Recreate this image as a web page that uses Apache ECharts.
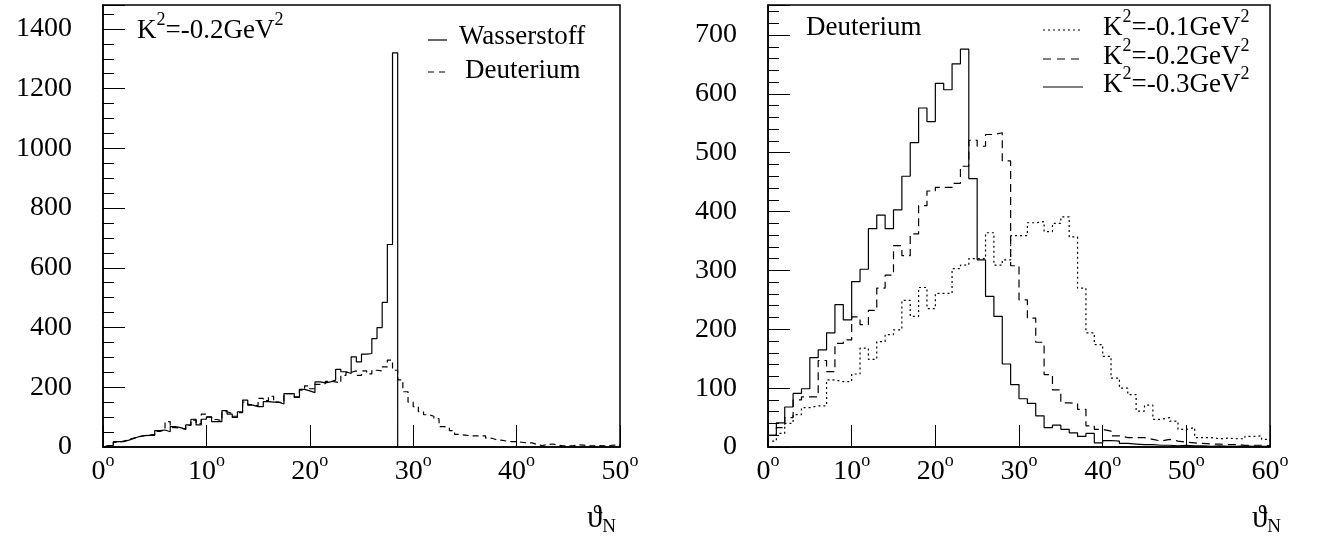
<!DOCTYPE html>
<html>
<head>
<meta charset="utf-8">
<title>theta_N Verteilungen</title>
<script src="https://cdn.jsdelivr.net/npm/echarts@6/dist/echarts.min.js"></script>
<style>
html, body { margin: 0; padding: 0; background: #fff; }
#main { width: 1327px; height: 544px; }
</style>
</head>
<body>
<div id="main"></div>
<script>
// bin widths in degrees
var leftBin = 0.5;
var rightBin = 1;

// linkes Bild: K^2 = -0.2 GeV^2, 0.5 Grad Bins
var wasserstoff = [5, 5, 18, 18, 23, 29, 35, 38, 39, 39,
  55, 57, 51, 68, 65, 59, 74, 93, 74, 93,
  101, 85, 85, 122, 110, 99, 118, 157, 140, 135,
  135, 152, 150, 150, 144, 179, 179, 166, 193, 188,
  182, 218, 215, 218, 224, 260, 252, 246, 302, 285,
  311, 313, 363, 400, 484, 678, 1320];
var deuteriumLeft = [3, 8, 15, 20, 25, 30, 34, 38, 40, 42,
  52, 57, 85, 65, 63, 60, 72, 90, 78, 110,
  100, 92, 88, 118, 112, 103, 115, 150, 142, 138,
  163, 155, 170, 150, 148, 179, 179, 168, 190, 205,
  195, 210, 212, 220, 218, 215, 240, 250, 255, 240,
  255, 245, 257, 255, 268, 291, 257, 225, 185, 150,
  135, 118, 108, 103, 95, 68, 65, 55, 42, 40,
  38, 37, 37, 37, 30, 25, 23, 20, 18, 18,
  16, 14, 14, 8, 5, 8, 10, 6, 4, 4,
  5, 7, 6, 4, 4, 5, 4, 5, 6, 7];

// rechtes Bild: Deuterium, 1 Grad Bins
var k01 = [10, 23, 40, 55, 67, 70, 70, 114, 111, 111,
  124, 168, 149, 179, 191, 199, 249, 222, 271, 235,
  261, 261, 303, 309, 320, 320, 364, 309, 318, 359,
  359, 381, 383, 366, 380, 391, 357, 270, 194, 174,
  154, 117, 100, 89, 61, 71, 47, 50, 44, 30,
  33, 16, 16, 14, 15, 14, 14, 18, 19, 13];
var k02 = [20, 33, 50, 80, 85, 85, 147, 128, 176, 182,
  221, 208, 232, 270, 292, 342, 325, 362, 410, 435,
  441, 441, 448, 477, 521, 511, 531, 534, 486, 308,
  250, 219, 178, 123, 97, 75, 74, 64, 36, 30,
  27, 19, 16, 16, 16, 13, 10, 13, 10, 8,
  7, 6, 5, 5, 4, 4, 3, 3, 3, 2];
var k03 = [20, 41, 68, 91, 99, 152, 165, 194, 242, 216,
  281, 302, 371, 394, 371, 403, 460, 517, 576, 553,
  618, 607, 651, 676, 456, 318, 256, 222, 141, 106,
  82, 74, 53, 33, 37, 30, 24, 18, 23, 7,
  11, 10, 6, 5, 4, 4, 3, 3, 2, 3,
  2, 2, 1, 2, 1, 1, 2, 1, 1, 1];

var serif = 'Liberation Serif';

// Histogramm-Umriss: Punkte an den Bin-Kanten, gezeichnet mit step 'end'
function steps(vals, w) {
  var pts = [[0, 0]];
  for (var i = 0; i < vals.length; i++) pts.push([i * w, vals[i]]);
  pts.push([vals.length * w, vals[vals.length - 1]]);
  pts.push([vals.length * w, 0]);
  return pts;
}

function xAxis(idx, max) {
  return {
    type: 'value', gridIndex: idx, min: 0, max: max, interval: 10,
    axisLine: { show: true, lineStyle: { color: '#000', width: 1.5 } },
    axisTick: { show: true, inside: true, length: 22, lineStyle: { color: '#000', width: 1 } },
    splitLine: { show: false },
    axisLabel: {
      margin: 5,
      formatter: function (v) { return '{n|' + v + '}{s|o}'; },
      rich: {
        n: { fontFamily: serif, fontSize: 28, color: '#000', lineHeight: 34, verticalAlign: 'bottom' },
        s: { fontFamily: serif, fontSize: 18, color: '#000', lineHeight: 18, verticalAlign: 'top' }
      }
    }
  };
}

function yAxis(idx, max, step, minorSplit) {
  return {
    type: 'value', gridIndex: idx, min: 0, max: max, interval: step,
    axisLine: { show: true, lineStyle: { color: '#000', width: 1.5 } },
    axisTick: { show: true, inside: true, length: 22, lineStyle: { color: '#000', width: 1 } },
    minorTick: { show: true, splitNumber: minorSplit, length: 11, lineStyle: { color: '#000', width: 1 } },
    splitLine: { show: false },
    axisLabel: {
      margin: 31, color: '#000', fontFamily: serif, fontSize: 28,
      formatter: function (v) { return v % step === 0 ? String(v) : ''; }
    }
  };
}

function hist(name, vals, w, xi, dash) {
  return {
    name: name, type: 'line', xAxisIndex: xi, yAxisIndex: xi,
    step: 'end', symbol: 'none', animation: false, silent: true,
    data: steps(vals, w),
    lineStyle: { color: '#000', width: 1.2, type: dash }
  };
}

var supRich = {
  a: { fontFamily: serif, fontSize: 27, fill: '#000', lineHeight: 33, verticalAlign: 'bottom' },
  b: { fontFamily: serif, fontSize: 18, fill: '#000', lineHeight: 18, verticalAlign: 'top' }
};
var subRich = {
  a: { fontFamily: serif, fontSize: 31, fill: '#000', lineHeight: 34, verticalAlign: 'top' },
  b: { fontFamily: serif, fontSize: 19, fill: '#000', lineHeight: 19, verticalAlign: 'bottom' }
};

function label(x, y, text, rich) {
  return { type: 'text', x: x, y: y, style: { text: text, rich: rich || supRich, fill: '#000',
    fontFamily: serif, fontSize: 27, verticalAlign: 'middle', align: 'left' } };
}
function sample(x1, x2, y, dash) {
  return { type: 'line', shape: { x1: x1, y1: y, x2: x2, y2: y },
    style: { stroke: '#000', lineWidth: 1.2, lineDash: dash } };
}

var chart = echarts.init(document.getElementById('main'));
chart.setOption({
  animation: false,
  backgroundColor: '#fff',
  grid: [
    { left: 103, right: 707, top: 5, bottom: 97, show: true, borderColor: '#000', borderWidth: 1.5, outerBoundsMode: 'none' },
    { left: 768, right: 57, top: 5, bottom: 97, show: true, borderColor: '#000', borderWidth: 1.5, outerBoundsMode: 'none' }
  ],
  xAxis: [xAxis(0, 50), xAxis(1, 60)],
  yAxis: [yAxis(0, 1480, 200, 4), yAxis(1, 751, 100, 5)],
  series: [
    hist('Wasserstoff', wasserstoff, leftBin, 0, 'solid'),
    hist('Deuterium', deuteriumLeft, leftBin, 0, [6, 4]),
    hist('K2=-0.1GeV2', k01, rightBin, 1, [2, 3]),
    hist('K2=-0.2GeV2', k02, rightBin, 1, [8, 5]),
    hist('K2=-0.3GeV2', k03, rightBin, 1, 'solid')
  ],
  graphic: [
    label(137, 28, '{a|K}{b|2}{a|=-0.2GeV}{b|2}'),
    sample(428, 447, 40, null),
    label(459, 34, '{a|Wasserstoff}'),
    sample(428, 447, 72, [6, 5]),
    label(465, 68, '{a|Deuterium}'),

    label(806, 25, '{a|Deuterium}'),
    sample(1043, 1083, 30, [2, 3]),
    label(1103, 25, '{a|K}{b|2}{a|=-0.1GeV}{b|2}'),
    sample(1043, 1083, 59, [8, 6]),
    label(1103, 54, '{a|K}{b|2}{a|=-0.2GeV}{b|2}'),
    sample(1043, 1083, 87, null),
    label(1103, 82, '{a|K}{b|2}{a|=-0.3GeV}{b|2}'),

    label(587, 520, '{a|ϑ}{b|N}', subRich),
    label(1252, 520, '{a|ϑ}{b|N}', subRich)
  ]
});
</script>
</body>
</html>
